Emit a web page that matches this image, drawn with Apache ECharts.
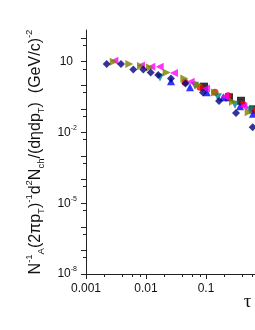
<!DOCTYPE html>
<html>
<head>
<meta charset="utf-8">
<script src="https://cdn.jsdelivr.net/npm/echarts@6/dist/echarts.min.js"></script>
<style>html,body{margin:0;padding:0;background:#fff}#c{width:255px;height:330px}</style>
</head>
<body>
<div id="c"></div>
<script>
// data: [tau, yield]
var navyDiamond = [[0.00221,7.98],[0.00383,7.98],[0.00614,4.65],[0.00901,4.65],[0.01197,3.53],[0.0160,2.71],[0.0261,1.95],[0.0455,1.20],[0.0891,0.494],[0.165,0.216],[0.316,0.0665],[0.600,0.0168]];
var oliveRight = [[0.00290,10.0],[0.00527,7.98],[0.00826,6.55],[0.01167,5.65],[0.0221,3.53],[0.0435,1.92],[0.0745,1.06],[0.141,0.494],[0.282,0.20],[0.515,0.0713]];
var magentaLeft = [[0.00297,11.0],[0.00826,6.88],[0.01225,6.12],[0.0169,6.12],[0.0293,3.36],[0.0556,1.40],[0.100,0.733],[0.207,0.337],[0.419,0.128]];
var redCircle = [[0.0447,1.36],[0.0794,0.832],[0.141,0.509],[0.233,0.361],[0.414,0.157],[0.607,0.0869]];
var blueUp = [[0.0261,1.50],[0.0541,0.832],[0.103,0.509],[0.194,0.311],[0.369,0.128],[0.607,0.0615]];
var tealDown = [[0.0171,2.12],[0.0656,0.964],[0.158,0.311],[0.304,0.149],[0.541,0.0869]];
var blackSquare = [[0.0927,0.875],[0.242,0.311],[0.383,0.221],[0.607,0.0957]];

var xMajorTicks = [0.001,0.01,0.1,1];
var xMinorTicks = [0.002,0.004,0.006,0.008,0.02,0.04,0.06,0.08,0.2,0.4,0.6,0.8];
var xLabelValues = [0.001,0.01,0.1];
var xLabelTexts = ['0.001','0.01','0.1'];
var yMajorTicks = [1e-8,1e-7,1e-6,1e-5,1e-4,1e-3,1e-2,1e-1,1,10,100];
var yMinorTicks = [5e-8,5e-7,5e-6,5e-5,5e-4,5e-3,5e-2,5e-1,5,50];
var yLabelValues = [1e-8,1e-5,1e-2,10];
var yLabelExps = ['-8','-5','-2',''];

var chart = echarts.init(document.getElementById('c'), null, {renderer:'canvas'});
var axisCol = '#222';
function mkSeries(name, data, symbol, rot, color) {
  return {name:name, type:'scatter', data:data, symbol:symbol, symbolRotate:rot, symbolSize: symbol==='circle'?7:8,
    itemStyle:{color:color}, xAxisIndex:0, yAxisIndex:0, z:2};
}
var option = {
  animation:false,
  backgroundColor:'#fff',
  grid:{left:86, width:180, top:30, height:244, containLabel:false, outerBoundsMode:'none'},
  xAxis:[{
    type:'log', logBase:10, min:0.001, max:1,
    axisLine:{show:true, onZero:false, lineStyle:{color:axisCol, width:1}},
    axisTick:{show:true, inside:false, length:5, customValues:xMajorTicks, lineStyle:{color:axisCol}},
    axisLabel:{show:true, customValues:xLabelValues, margin:9, fontSize:12, fontFamily:'Liberation Sans, Arial', color:'#111',
      formatter:function(v){ for (var i=0;i<xLabelValues.length;i++){ if (Math.abs(Math.log10(v)-Math.log10(xLabelValues[i]))<1e-6) return xLabelTexts[i]; } return ''; }},
    splitLine:{show:false}
  },{
    type:'log', logBase:10, min:0.001, max:1, position:'bottom',
    axisLine:{show:false},
    axisTick:{show:true, inside:false, length:3, customValues:xMinorTicks, lineStyle:{color:axisCol}},
    axisLabel:{show:false}, splitLine:{show:false}
  }],
  yAxis:[{
    type:'log', logBase:10, min:1e-8, max:221,
    axisLine:{show:true, onZero:false, lineStyle:{color:axisCol, width:1}},
    axisTick:{show:true, inside:false, length:5, customValues:yMajorTicks, lineStyle:{color:axisCol}},
    axisLabel:{show:true, customValues:yLabelValues, margin:9, color:'#111',
      formatter:function(v){ var e = Math.round(Math.log10(v)); for (var i=0;i<yLabelValues.length;i++){ if (Math.round(Math.log10(yLabelValues[i]))===e){ return yLabelExps[i]? '{n|10}{s|'+yLabelExps[i]+'}' : '{p|10}'; } } return ''; },
      rich:{
        n:{fontSize:12, fontFamily:'Liberation Sans, Arial', color:'#111', lineHeight:16},
        p:{fontSize:12, fontFamily:'Liberation Sans, Arial', color:'#111', lineHeight:16, padding:[0,4,0,0]},
        s:{fontSize:7, fontFamily:'Liberation Sans, Arial', color:'#111', verticalAlign:'top'}
      }},
    splitLine:{show:false},
    name:'{b|N}{sup|-1}{sub|A}{b|(2πp}{sub|T}{b|)}{sup|-1}{b|d}{sup|2}{b|N}{sub|ch}{b|/(dηdp}{sub|T}{b|)  (GeV/c)}{sup|-2}',
    nameLocation:'middle', nameRotate:90, nameGap:36,
    nameTextStyle:{
      rich:{
        b:{fontSize:16, fontFamily:'Liberation Sans, Arial', color:'#111', lineHeight:22},
        sup:{fontSize:9.5, fontFamily:'Liberation Sans, Arial', color:'#111', verticalAlign:'top'},
        sub:{fontSize:9.5, fontFamily:'Liberation Sans, Arial', color:'#111', verticalAlign:'bottom'}
      }
    }
  },{
    type:'log', logBase:10, min:1e-8, max:221, position:'left',
    axisLine:{show:false},
    axisTick:{show:true, inside:false, length:3, customValues:yMinorTicks, lineStyle:{color:axisCol}},
    axisLabel:{show:false}, splitLine:{show:false}
  }],
  graphic:[{type:'text', x:247.5, y:302, style:{text:'τ', fontSize:19, fontFamily:'Liberation Serif', fill:'#111', align:'center', verticalAlign:'middle'}}],
  series:[
    mkSeries('black', blackSquare, 'rect', 0, '#000000'),
    mkSeries('red', redCircle, 'circle', 0, '#ff0000'),
    mkSeries('blue', blueUp, 'triangle', 0, '#0000ff'),
    mkSeries('teal', tealDown, 'triangle', 180, '#008080'),
    mkSeries('magenta', magentaLeft, 'triangle', 90, '#ff00ff'),
    mkSeries('olive', oliveRight, 'triangle', -90, '#808000'),
    mkSeries('navy', navyDiamond, 'diamond', 0, '#000080')
  ]
};
chart.setOption(option);
</script>
</body>
</html>
